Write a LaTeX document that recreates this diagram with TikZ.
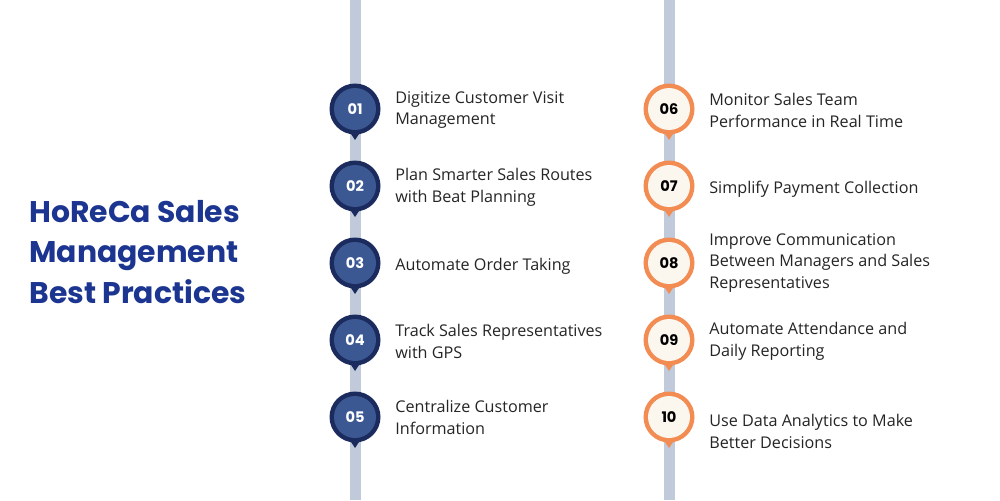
\documentclass[tikz,border=0pt]{standalone}
\usepackage{fontspec}
\setmainfont{Open Sans}
\newfontfamily\headfont{Poppins}[UprightFont=* Bold]
\definecolor{navyring}{HTML}{1C2B5E}
\definecolor{navyfill}{HTML}{3B5893}
\definecolor{orangering}{HTML}{F28C52}
\definecolor{creamfill}{HTML}{FBF6EE}
\definecolor{barcol}{HTML}{C0CADB}
\definecolor{titlecol}{HTML}{1B3590}
\definecolor{textcol}{HTML}{252525}
\tikzset{
  ring/.style={circle,minimum size=51\pxu,inner sep=0pt},
  core/.style={circle,minimum size=42\pxu,inner sep=0pt,font=\headfont\fontsize{8.3}{8}\selectfont},
  navyring/.style={ring,fill=navyring},
  navycore/.style={core,fill=navyfill,text=white},
  orangering/.style={ring,fill=orangering},
  orangecore/.style={core,fill=creamfill,text=black},
  itemtext/.style={anchor=west,align=left,inner sep=0pt,text=textcol,font=\fontsize{9.2}{12.5}\selectfont},
}
\newlength{\pxu}
\setlength{\pxu}{0.02cm}
\begin{document}
\begin{tikzpicture}[x=0.02cm,y=-0.02cm]
\useasboundingbox[fill=white] (0,0) rectangle (1000,500);
\fill[barcol] (349.5,0) rectangle (361,500);
\fill[barcol] (663.5,0) rectangle (675,500);

\node[anchor=west,align=left,inner sep=0pt,text=titlecol,font=\headfont\fontsize{17}{23}\selectfont] (title) at (29,252) {HoReCa Sales\\Management\\Best Practices};

\node[navyring] (r1) at (355,109) {};
\fill[navyring] (349,131) -- (361,131) -- (355,140) -- cycle;
\node[navycore] (c1) at (r1) {01};
\node[itemtext] (t1) at (395,110) {Digitize Customer Visit\\Management};

\node[navyring] (r2) at (355,186) {};
\fill[navyring] (349,208) -- (361,208) -- (355,217) -- cycle;
\node[navycore] (c2) at (r2) {02};
\node[itemtext] (t2) at (395,187) {Plan Smarter Sales Routes\\with Beat Planning};

\node[navyring] (r3) at (355,263) {};
\fill[navyring] (349,285) -- (361,285) -- (355,294) -- cycle;
\node[navycore] (c3) at (r3) {03};
\node[itemtext] (t3) at (395,266) {Automate Order Taking};

\node[navyring] (r4) at (355,340) {};
\fill[navyring] (349,362) -- (361,362) -- (355,371) -- cycle;
\node[navycore] (c4) at (r4) {04};
\node[itemtext] (t4) at (395,341) {Track Sales Representatives\\with GPS};

\node[navyring] (r5) at (355,417) {};
\fill[navyring] (349,439) -- (361,439) -- (355,448) -- cycle;
\node[navycore] (c5) at (r5) {05};
\node[itemtext] (t5) at (395,417) {Centralize Customer\\Information};

\node[orangering] (r6) at (669,109) {};
\fill[orangering] (663,131) -- (675,131) -- (669,140) -- cycle;
\node[orangecore] (c6) at (r6) {06};
\node[itemtext] (t6) at (709,110) {Monitor Sales Team\\Performance in Real Time};

\node[orangering] (r7) at (669,186) {};
\fill[orangering] (663,208) -- (675,208) -- (669,217) -- cycle;
\node[orangecore] (c7) at (r7) {07};
\node[itemtext] (t7) at (709,189) {Simplify Payment Collection};

\node[orangering] (r8) at (669,263) {};
\fill[orangering] (663,285) -- (675,285) -- (669,294) -- cycle;
\node[orangecore] (c8) at (r8) {08};
\node[itemtext] (t8) at (709,263) {Improve Communication\\Between Managers and Sales\\Representatives};

\node[orangering] (r9) at (669,340) {};
\fill[orangering] (663,362) -- (675,362) -- (669,371) -- cycle;
\node[orangecore] (c9) at (r9) {09};
\node[itemtext] (t9) at (709,341) {Automate Attendance and\\Daily Reporting};

\node[orangering] (r10) at (669,417) {};
\fill[orangering] (663,439) -- (675,439) -- (669,448) -- cycle;
\node[orangecore] (c10) at (r10) {10};
\node[itemtext] (t10) at (709,431) {Use Data Analytics to Make\\Better Decisions};
\end{tikzpicture}
\end{document}
